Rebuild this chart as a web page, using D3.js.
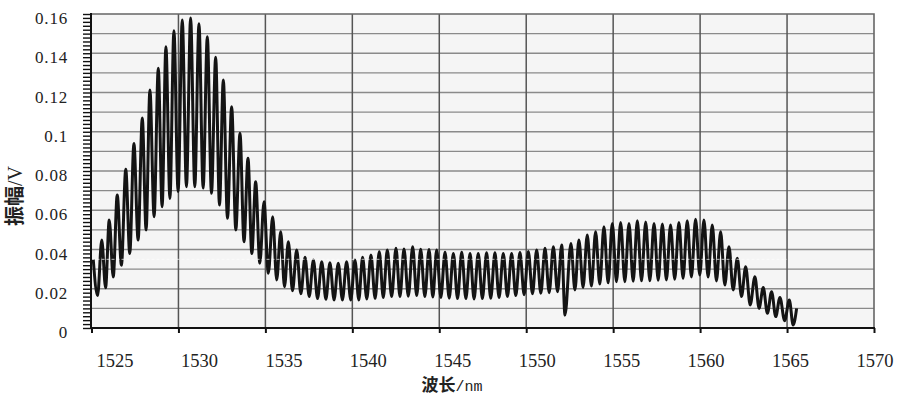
<!DOCTYPE html>
<html>
<head>
<meta charset="utf-8">
<script src="https://cdn.jsdelivr.net/npm/d3@7"></script>
<style>
  html, body { margin: 0; padding: 0; background: #fff; }
  svg { display: block; }
  .serif { font-family: 'Liberation Serif', 'Times New Roman', 'DejaVu Serif', serif; }
  .cjk { font-family: 'Noto Sans CJK SC', sans-serif; font-weight: bold; }
  .mono { font-family: 'Liberation Mono', 'DejaVu Sans Mono', monospace; }
</style>
</head>
<body>
<div id="chart"></div>
<script>
// Wavelength (nm) of each turning point of the fringe trace.
const wavelength = [
  1525.10, 1525.35, 1525.59, 1525.81, 1526.02, 1526.25, 1526.48, 1526.72, 1526.97, 1527.20,
  1527.44, 1527.68, 1527.92, 1528.14, 1528.36, 1528.60, 1528.84, 1529.06, 1529.28, 1529.51,
  1529.74, 1529.98, 1530.22, 1530.46, 1530.70, 1530.94, 1531.18, 1531.42, 1531.66, 1531.90,
  1532.14, 1532.36, 1532.58, 1532.82, 1533.06, 1533.30, 1533.54, 1533.77, 1534.00, 1534.22,
  1534.44, 1534.68, 1534.92, 1535.17, 1535.42, 1535.65, 1535.88, 1536.10, 1536.32, 1536.56,
  1536.80, 1537.04, 1537.28, 1537.52, 1537.76, 1538.00, 1538.24, 1538.48, 1538.71, 1538.95,
  1539.19, 1539.43, 1539.67, 1539.91, 1540.15, 1540.37, 1540.59, 1540.83, 1541.07, 1541.31,
  1541.55, 1541.78, 1542.01, 1542.26, 1542.51, 1542.74, 1542.97, 1543.22, 1543.47, 1543.70,
  1543.93, 1544.17, 1544.41, 1544.63, 1544.85, 1545.09, 1545.33, 1545.57, 1545.81, 1546.05,
  1546.29, 1546.53, 1546.77, 1547.00, 1547.24, 1547.48, 1547.72, 1547.96, 1548.20, 1548.44,
  1548.68, 1548.92, 1549.16, 1549.40, 1549.64, 1549.88, 1550.12, 1550.36, 1550.60, 1550.84,
  1551.08, 1551.32, 1551.56, 1551.80, 1552.04, 1552.23, 1552.57, 1552.80, 1553.03, 1553.27,
  1553.51, 1553.75, 1553.99, 1554.23, 1554.47, 1554.71, 1554.95, 1555.19, 1555.43, 1555.67,
  1555.91, 1556.15, 1556.39, 1556.63, 1556.87, 1557.11, 1557.35, 1557.59, 1557.83, 1558.06,
  1558.30, 1558.54, 1558.78, 1559.02, 1559.26, 1559.50, 1559.74, 1559.98, 1560.22, 1560.46,
  1560.70, 1560.94, 1561.18, 1561.42, 1561.66, 1561.90, 1562.14, 1562.38, 1562.62, 1562.88,
  1563.15, 1563.39, 1563.63, 1563.87, 1564.11, 1564.35, 1564.59, 1564.86, 1565.13, 1565.35,
  1565.55
]

// Amplitude (V) at each of those points.
const amplitude = [
  0.0350, 0.0165, 0.0448, 0.0205, 0.0550, 0.0260, 0.0678, 0.0320, 0.0809, 0.0380,
  0.0940, 0.0448, 0.1070, 0.0500, 0.1213, 0.0567, 0.1323, 0.0618, 0.1433, 0.0660,
  0.1515, 0.0695, 0.1570, 0.0720, 0.1580, 0.0720, 0.1550, 0.0713, 0.1484, 0.0686,
  0.1380, 0.0627, 0.1264, 0.0559, 0.1128, 0.0500, 0.0992, 0.0440, 0.0865, 0.0380,
  0.0745, 0.0330, 0.0643, 0.0279, 0.0567, 0.0245, 0.0490, 0.0210, 0.0440, 0.0190,
  0.0397, 0.0175, 0.0360, 0.0160, 0.0347, 0.0150, 0.0338, 0.0146, 0.0333, 0.0143,
  0.0330, 0.0143, 0.0338, 0.0143, 0.0347, 0.0143, 0.0360, 0.0148, 0.0372, 0.0151,
  0.0389, 0.0155, 0.0397, 0.0160, 0.0406, 0.0160, 0.0402, 0.0162, 0.0414, 0.0165,
  0.0401, 0.0160, 0.0400, 0.0158, 0.0397, 0.0156, 0.0386, 0.0152, 0.0380, 0.0150,
  0.0386, 0.0150, 0.0380, 0.0148, 0.0380, 0.0150, 0.0383, 0.0152, 0.0383, 0.0155,
  0.0380, 0.0160, 0.0380, 0.0165, 0.0385, 0.0170, 0.0390, 0.0175, 0.0397, 0.0177,
  0.0406, 0.0180, 0.0414, 0.0185, 0.0423, 0.0066, 0.0431, 0.0194, 0.0448, 0.0207,
  0.0474, 0.0214, 0.0490, 0.0224, 0.0516, 0.0230, 0.0533, 0.0236, 0.0537, 0.0236,
  0.0533, 0.0238, 0.0547, 0.0241, 0.0540, 0.0241, 0.0533, 0.0243, 0.0530, 0.0245,
  0.0525, 0.0248, 0.0537, 0.0253, 0.0547, 0.0260, 0.0554, 0.0270, 0.0550, 0.0260,
  0.0525, 0.0240, 0.0490, 0.0219, 0.0414, 0.0194, 0.0355, 0.0160, 0.0312, 0.0117,
  0.0261, 0.0100, 0.0207, 0.0075, 0.0185, 0.0058, 0.0156, 0.0037, 0.0143, 0.0015,
  0.0100
]

const xTicks = [1525, 1530, 1535, 1540, 1545, 1550, 1555, 1560, 1565, 1570]
const yTicks = [0, 0.02, 0.04, 0.06, 0.08, 0.1, 0.12, 0.14, 0.16]
const yTickLabels = ['0', '0.02', '0.04', '0.06', '0.08', '0.1', '0.12', '0.14', '0.16']
const yGrid = [0.01, 0.02, 0.03, 0.04, 0.05, 0.06, 0.07, 0.08, 0.09, 0.1, 0.11, 0.12, 0.13, 0.14, 0.15]
const centreLine = 0.035

const width = 899
const height = 397
const plotLeft = 91
const plotRight = 874
const plotTop = 14
const plotBottom = 328

const svg = d3.select('#chart')
  .append('svg')
  .attr('width', width)
  .attr('height', height)

/**
 * Scales.
 */
const x = d3.scaleLinear().domain([1525, 1570]).range([plotLeft + 0.5, plotRight])
// tick labels sit a little to the right of their ticks, spreading less than the ticks do
const xLabel = d3.scaleLinear().domain([1525, 1570]).range([115, 875])
const y = d3.scaleLinear().domain([0, 0.16]).range([plotBottom, plotTop])

/**
 * Plot background and grid.
 */
svg.append('rect')
  .attr('x', plotLeft).attr('y', plotTop)
  .attr('width', plotRight - plotLeft).attr('height', plotBottom - plotTop)
  .attr('fill', '#f5f5f5')

svg.append('g').selectAll('line')
  .data(yGrid)
  .join('line')
    .attr('x1', plotLeft).attr('x2', plotRight)
    .attr('y1', d => y(d)).attr('y2', d => y(d))
    .attr('stroke', '#8a8a8a')
    .attr('stroke-width', 1.4)

svg.append('g').selectAll('line')
  .data(xTicks.slice(1, -1))
  .join('line')
    .attr('x1', d => x(d)).attr('x2', d => x(d))
    .attr('y1', plotTop).attr('y2', plotBottom)
    .attr('stroke', '#555')
    .attr('stroke-width', 1.5)

// top and right frame
svg.append('path')
  .attr('d', `M${plotLeft},${plotTop}H${plotRight}V${plotBottom}`)
  .attr('fill', 'none')
  .attr('stroke', '#666')
  .attr('stroke-width', 1.6)

/**
 * Trace.
 */
const points = wavelength.map((w, i) => [w, amplitude[i]])
const line = d3.line()
  .x(d => x(d[0]))
  .y(d => y(d[1]))
  .curve(d3.curveMonotoneX)

svg.append('path')
  .datum(points)
  .attr('d', line)
  .attr('fill', 'none')
  .attr('stroke', '#141414')
  .attr('stroke-width', 3)

// faint white centre line running through the trace
svg.append('line')
  .attr('x1', x(1525)).attr('x2', x(1565))
  .attr('y1', y(centreLine)).attr('y2', y(centreLine))
  .attr('stroke', '#fff')
  .attr('stroke-width', 1)
  .attr('stroke-dasharray', '3,2')
  .attr('opacity', 0.7)

/**
 * Axes.
 */
const yAxis = svg.append('g')
  .attr('transform', `translate(${plotLeft},0)`)
  .call(
    d3.axisLeft(y)
      .tickValues(d3.range(0, 0.1601, 0.002))
      .tickSize(8)
      .tickFormat('')
  )
yAxis.select('.domain').remove()
yAxis.selectAll('.tick line').attr('stroke', '#111').attr('stroke-width', 1.4)

const xAxis = svg.append('g')
  .attr('transform', `translate(0,${plotBottom})`)
  .call(
    d3.axisBottom(x)
      .tickValues(xTicks)
      .tickSize(5)
      .tickFormat('')
  )
xAxis.select('.domain').remove()
xAxis.selectAll('.tick line').attr('stroke', '#111').attr('stroke-width', 2)

svg.append('path')
  .attr('d', `M${plotLeft},${plotTop - 1}V${plotBottom}H${plotRight + 1}`)
  .attr('fill', 'none')
  .attr('stroke', '#111')
  .attr('stroke-width', 2)

/**
 * Tick labels.
 */
svg.append('g').selectAll('text')
  .data(yTicks)
  .join('text')
    .attr('class', 'serif')
    .attr('x', 68)
    .attr('y', d => y(d) + 10)
    .attr('text-anchor', 'end')
    .attr('font-size', 17)
    .attr('letter-spacing', 0.8)
    .attr('fill', '#222')
    .text((d, i) => yTickLabels[i])

svg.append('g').selectAll('text')
  .data(xTicks)
  .join('text')
    .attr('class', 'serif')
    .attr('x', d => xLabel(d))
    .attr('y', 367)
    .attr('text-anchor', 'middle')
    .attr('font-size', 18.5)
    .attr('fill', '#222')
    .text(d => d)

/**
 * Axis titles.
 */
const xTitle = svg.append('text')
  .attr('x', 452)
  .attr('y', 391)
  .attr('text-anchor', 'middle')
  .attr('fill', '#222')
xTitle.append('tspan')
  .attr('class', 'cjk')
  .attr('font-size', 17)
  .text('波长')
xTitle.append('tspan')
  .attr('class', 'mono')
  .attr('font-size', 15)
  .text('/nm')

const yTitle = svg.append('text')
  .attr('transform', 'translate(22,196) rotate(-90)')
  .attr('text-anchor', 'middle')
  .attr('fill', '#222')
yTitle.append('tspan')
  .attr('class', 'cjk')
  .attr('font-size', 20)
  .text('振幅')
yTitle.append('tspan')
  .attr('class', 'serif')
  .attr('font-size', 20)
  .text('/V')
</script>
</body>
</html>
